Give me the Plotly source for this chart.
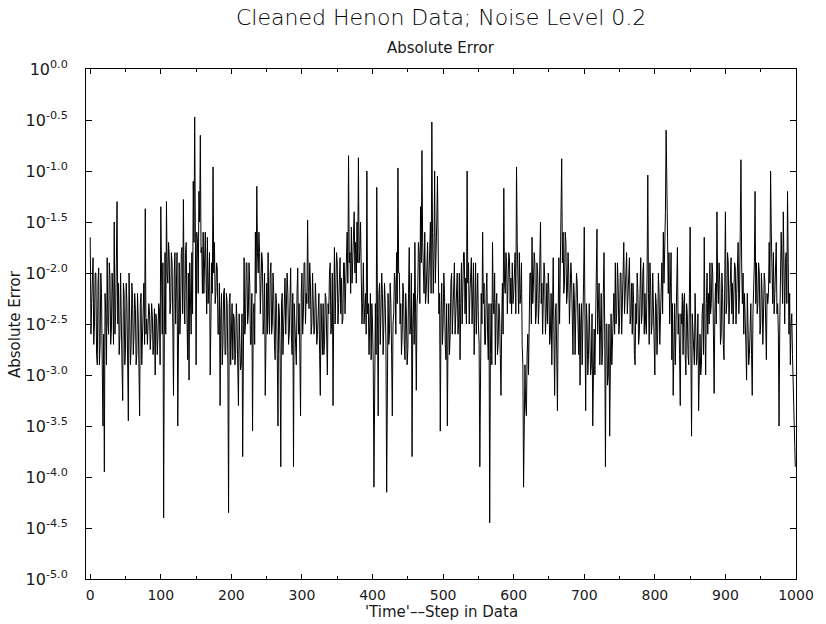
import plotly.graph_objects as go

# log10(absolute error) at even steps 0, 2, ..., 998
log_err_even = [
    -1.65, -2.3, -1.85, -2.5, -2.0, -2.9, -1.95, -2.7, -2.2, -3.5,
    -3.95, -2.4, -1.85, -2.6, -2.05, -2.55, -2.2, -1.5, -2.4, -1.3,
    -2.1, -2.6, -2.3, -3.25, -2.2, -2.75, -2.3, -3.45, -2.4, -2.7,
    -2.25, -2.6, -2.35, -2.8, -2.45, -3.4, -2.2, -2.6, -2.1, -1.37,
    -2.45, -2.55, -2.38, -2.6, -2.42, -2.7, -3.0, -2.45, -2.6, -2.35,
    -1.35, -2.6, -4.4, -1.8, -1.3, -2.1, -1.85, -2.3, -1.9, -3.2,
    -1.8, -2.2, -3.5, -1.9, -2.4, -1.75, -1.28, -2.5, -1.7, -2.85,
    -3.05, -2.3, -1.8, -1.1, -0.47, -2.9, -1.7, -1.2, -0.65, -1.75,
    -1.6, -1.85, -2.0, -1.65, -2.1, -3.0, -1.9, -0.96, -1.7, -2.2,
    -1.95, -2.6, -3.3, -2.2, -2.7, -2.15, -2.8, -2.3, -4.35, -2.2,
    -2.6, -2.85, -2.45, -2.8, -2.5, -3.3, -2.6, -2.9, -3.8, -1.85,
    -2.5, -1.9, -2.4, -2.1, -2.7, -3.55, -2.3, -1.6, -1.15, -2.0,
    -1.8, -2.2, -1.9, -2.45, -3.2, -2.1, -1.8, -2.6, -1.9, -2.5,
    -2.2, -2.85, -2.3, -3.5, -2.4, -3.9, -2.2, -2.5, -2.05, -2.4,
    -2.2, -2.6, -1.95, -2.8, -3.9, -2.5, -2.9, -1.95, -2.3, -3.4,
    -2.0, -2.4, -1.9, -2.2, -1.48, -2.35, -2.1, -2.5, -2.2, -2.55,
    -2.3, -2.6, -2.2, -3.2, -2.5, -2.3, -2.7, -2.25, -3.0, -2.4,
    -1.9, -2.5, -3.3, -1.75, -2.2, -1.9, -2.3, -1.85, -2.05, -2.45,
    -1.9, -2.1, -1.6, -0.85, -1.8, -1.55, -1.9, -1.4, -1.7, -1.5,
    -0.87, -1.8, -2.1, -2.3, -2.5, -2.2, -1.0, -2.3, -2.6, -2.85,
    -2.5, -4.1, -2.3, -1.16, -3.4, -2.1, -2.4, -2.2, -2.5, -2.3,
    -4.15, -2.2, -2.6, -2.3, -3.4, -2.4, -2.1, -1.8, -0.97, -2.0,
    -2.3, -2.6, -2.2, -2.85, -2.4, -2.75, -1.75, -2.5, -3.8, -2.2,
    -1.7, -3.15, -2.2, -1.8, -1.35, -0.8, -2.0, -1.6, -2.2, -1.7,
    -2.1, -1.5, -0.52, -2.2, -1.0, -1.9, -1.05, -2.4, -3.55, -2.1,
    -2.5, -2.2, -2.85, -3.5, -2.3, -2.6, -2.0, -2.4, -1.9, -2.3,
    -2.0, -2.5, -2.85, -1.9, -2.1, -1.8, -2.05, -1.0, -1.9, -2.2,
    -1.85, -2.3, -2.8, -1.9, -2.2, -2.5, -3.9, -2.2, -1.6, -2.1,
    -2.7, -2.0, -2.85, -4.45, -2.3, -1.7, -2.4, -2.9, -2.2, -2.7,
    -2.4, -3.2, -2.1, -1.17, -2.2, -1.9, -2.1, -1.85, -2.05, -1.9,
    -2.2, -1.8, -0.96, -2.0, -1.8, -2.2, -2.7, -4.1, -2.9, -3.4,
    -2.6, -2.35, -2.0, -1.65, -2.1, -1.9, -2.4, -2.0, -2.3, -1.5,
    -2.1, -2.3, -2.05, -2.4, -2.5, -2.2, -2.6, -2.9, -1.85, -3.2,
    -2.3, -3.35, -1.85, -2.1, -0.88, -1.6, -2.1, -1.7, -2.2, -2.0,
    -2.3, -2.05, -2.8, -2.25, -2.5, -2.1, -2.8, -3.1, -2.3, -2.6,
    -1.55, -3.35, -2.5, -2.8, -2.6, -2.9, -3.5, -2.55, -2.3, -1.57,
    -2.4, -2.9, -2.2, -2.75, -1.8, -3.9, -2.5, -3.0, -3.6, -2.4,
    -2.7, -2.2, -1.9, -2.4, -2.1, -2.5, -2.0, -2.3, -1.7, -2.1,
    -1.8, -2.2, -1.85, -2.4, -2.6, -2.3, -2.9, -2.5, -2.2, -2.6,
    -1.85, -2.4, -1.9, -2.2, -2.6, -1.04, -2.7, -2.1, -2.5, -2.3,
    -3.0, -2.3, -2.6, -2.2, -2.5, -1.9, -1.6, -1.75, -0.6, -1.65,
    -1.8, -2.1, -2.85, -3.2, -2.3, -2.6, -1.75, -2.4, -3.3, -2.5,
    -2.8, -2.2, -3.0, -2.4, -2.9, -1.55, -3.6, -2.6, -2.9, -2.5,
    -2.8, -3.35, -2.6, -2.9, -2.3, -1.65, -3.0, -2.0, -2.2, -1.9,
    -2.3, -2.0, -3.18, -2.1, -1.4, -2.3, -2.1, -2.6, -2.2, -2.85,
    -1.4, -2.3, -1.9, -2.2, -1.85, -2.1, -2.3, -1.95, -2.2, -1.7,
    -2.2, -0.89, -2.3, -2.6, -2.4, -3.05, -2.5, -2.8, -2.3, -3.2,
    -2.2, -1.2, -1.9, -2.3, -2.0, -2.5, -2.2, -2.4, -2.1, -2.85,
    -2.3, -1.7, -1.0, -1.9, -1.8, -2.2, -1.7, -2.3, -3.5, -2.0,
    -1.9, -1.4, -2.5, -1.8, -1.2, -2.6, -2.9, -2.4, -3.1, -3.6,
]

# log10(absolute error) at odd steps 1, 3, ..., 999
log_err_odd = [
    -2.6, -1.9, -2.7, -2.0, -2.8, -2.1, -2.9, -2.0, -2.9, -2.6,
    -2.2, -2.9, -2.5, -1.9, -2.7, -2.0, -2.7, -2.6, -1.9, -2.5,
    -2.8, -2.0, -2.9, -2.1, -2.9, -2.1, -2.8, -2.0, -2.9, -2.1,
    -2.8, -2.2, -2.9, -2.2, -2.9, -2.3, -2.9, -2.2, -2.7, -2.6,
    -2.7, -2.3, -2.75, -2.3, -2.8, -2.35, -2.4, -2.8, -2.3, -2.9,
    -2.4, -1.9, -2.6, -2.6, -2.0, -1.7, -2.4, -1.8, -2.5, -2.0,
    -2.5, -1.8, -2.3, -2.6, -1.8, -2.4, -2.2, -1.8, -2.4, -2.0,
    -1.9, -2.6, -2.4, -1.7, -1.8, -1.6, -2.2, -1.5, -1.8, -2.2,
    -2.2, -1.6, -2.4, -2.3, -1.8, -2.1, -2.2, -2.0, -2.3, -1.9,
    -2.6, -2.1, -2.4, -2.9, -2.2, -2.8, -2.2, -2.9, -2.3, -2.9,
    -2.3, -2.4, -2.9, -2.3, -2.9, -2.4, -2.95, -2.4, -2.5, -2.6,
    -1.9, -2.5, -1.9, -2.7, -2.2, -2.4, -2.7, -2.2, -1.8, -1.6,
    -2.4, -1.8, -2.6, -2.0, -2.3, -2.6, -2.4, -2.0, -2.6, -2.0,
    -2.7, -2.2, -2.8, -2.3, -2.8, -2.3, -2.8, -2.1, -2.6, -2.0,
    -2.7, -2.1, -2.6, -2.2, -2.3, -2.9, -2.2, -2.6, -2.8, -2.2,
    -2.6, -1.9, -2.5, -2.3, -2.2, -1.9, -2.6, -2.0, -2.6, -2.1,
    -2.7, -2.2, -2.8, -2.3, -2.8, -2.8, -2.2, -2.8, -2.3, -2.0,
    -2.6, -2.0, -2.4, -2.5, -1.8, -2.5, -1.9, -2.4, -2.5, -1.9,
    -2.4, -1.7, -2.1, -1.9, -2.2, -2.1, -1.6, -2.0, -2.1, -1.9,
    -1.9, -1.5, -2.5, -1.9, -2.2, -2.6, -2.4, -2.8, -2.2, -2.3,
    -2.9, -2.5, -2.8, -2.4, -2.2, -2.7, -2.0, -2.8, -2.1, -2.7,
    -2.6, -2.7, -2.1, -2.8, -2.5, -2.0, -2.6, -2.3, -2.0, -2.5,
    -2.8, -2.1, -2.7, -2.2, -2.9, -2.2, -2.6, -2.0, -2.5, -2.7,
    -2.4, -2.3, -1.7, -2.3, -1.9, -1.7, -2.2, -2.3, -1.8, -2.3,
    -1.7, -2.2, -1.6, -1.8, -2.1, -1.5, -2.0, -2.2, -2.4, -2.7,
    -2.0, -2.7, -2.3, -2.6, -2.8, -2.1, -2.6, -2.0, -2.6, -2.0,
    -2.6, -2.0, -2.3, -2.5, -1.8, -2.4, -2.5, -2.1, -2.5, -1.9,
    -2.5, -1.9, -2.2, -2.6, -2.0, -2.7, -2.6, -2.5, -2.3, -2.7,
    -2.2, -2.6, -2.3, -2.8, -2.9, -2.3, -2.0, -2.3, -2.8, -2.3,
    -2.8, -2.5, -2.6, -2.1, -1.8, -2.4, -1.8, -2.3, -2.4, -2.3,
    -1.9, -2.4, -1.7, -2.4, -2.3, -1.9, -2.9, -3.0, -3.3, -2.8,
    -3.0, -2.0, -2.5, -2.3, -1.8, -2.5, -1.9, -2.5, -1.9, -2.3,
    -2.6, -1.9, -2.6, -2.1, -2.0, -2.7, -2.2, -2.3, -2.6, -2.4,
    -2.8, -2.4, -2.5, -1.7, -1.9, -2.2, -1.6, -2.3, -1.8, -2.5,
    -1.9, -2.5, -2.1, -2.8, -2.0, -2.6, -2.3, -2.5, -2.9, -2.1,
    -2.6, -2.3, -3.0, -2.3, -3.0, -2.4, -2.7, -3.0, -2.1, -2.6,
    -2.1, -2.5, -2.9, -2.2, -2.6, -2.5, -3.1, -2.5, -2.9, -2.9,
    -2.3, -2.6, -2.5, -1.9, -2.6, -2.0, -2.6, -2.0, -2.4, -1.9,
    -2.4, -1.9, -2.5, -2.1, -2.1, -2.8, -2.3, -2.0, -2.7, -2.2,
    -2.5, -2.0, -2.6, -2.5, -2.0, -2.2, -1.9, -2.6, -2.0, -2.7,
    -2.2, -2.8, -2.0, -2.7, -2.1, -2.4, -2.1, -1.4, -1.5, -2.2,
    -2.5, -1.8, -2.3, -2.6, -2.9, -2.0, -2.6, -2.8, -2.4, -2.2,
    -2.3, -2.8, -2.3, -2.8, -2.2, -2.7, -2.4, -2.9, -2.2, -2.9,
    -2.4, -2.7, -3.0, -2.4, -2.8, -2.5, -2.3, -2.6, -2.5, -2.4,
    -1.9, -2.6, -2.4, -2.5, -2.1, -1.9, -2.7, -2.0, -2.7, -2.1,
    -2.4, -1.8, -2.5, -1.9, -2.4, -2.5, -1.9, -2.5, -2.0, -2.4,
    -1.6, -1.9, -2.0, -2.2, -2.7, -2.2, -2.9, -2.3, -2.8, -2.4,
    -1.9, -2.3, -2.4, -1.9, -2.6, -2.0, -2.7, -2.0, -2.6, -2.2,
    -2.2, -2.1, -1.6, -2.3, -2.4, -1.8, -2.4, -2.6, -2.5, -1.6,
    -2.3, -2.0, -1.9, -2.3, -1.9, -2.2, -2.5, -2.8, -3.4, -3.9,
]

step, abs_err = [], []
for i, (ve, vo) in enumerate(zip(log_err_even, log_err_odd)):
    step += [2 * i, 2 * i + 1]
    abs_err += [10 ** ve, 10 ** vo]

y_exps = [0.0, -0.5, -1.0, -1.5, -2.0, -2.5, -3.0, -3.5, -4.0, -4.5, -5.0]
y_tickvals = [10 ** e for e in y_exps]
y_ticktext = ["10<sup>%.1f</sup>" % e for e in y_exps]
x_ticks = [0, 100, 200, 300, 400, 500, 600, 700, 800, 900, 1000]

FONT = "DejaVu Sans"
INK = "#1a1a1a"

L, R, T, B = 86, 30, 69, 45
W, H = 826, 624
ph = H - T - B
pw = W - L - R

fig = go.Figure()
fig.add_trace(go.Scatter(x=step, y=abs_err, mode="lines",
                         line=dict(color="black", width=1), showlegend=False))

fig.update_layout(
    width=W, height=H,
    margin=dict(l=L, r=R, t=T, b=B),
    paper_bgcolor="white", plot_bgcolor="white",
    font=dict(family=FONT, color=INK, size=13),
    xaxis=dict(range=[-6, 1000], tickvals=x_ticks, ticks="inside", ticklen=5,
               tickcolor="black", showline=True, linecolor="black", linewidth=1,
               mirror="ticks", showgrid=False, zeroline=False,
               minor=dict(ticks="inside", ticklen=3, dtick=50, tickcolor="black"),
               tickfont=dict(size=14, color=INK), ticklabelstandoff=3),
    yaxis=dict(type="log", range=[-5, 0], tickvals=y_tickvals, ticktext=y_ticktext,
               ticks="inside", ticklen=6, tickcolor="black", showline=True,
               linecolor="black", linewidth=1, mirror="ticks", showgrid=False,
               zeroline=False, tickfont=dict(size=16, color=INK),
               ticklabelstandoff=14),
    annotations=[
        dict(text="Cleaned Henon Data; Noise Level 0.2", x=0.5,
             y=1 + (T - 18) / ph, xref="paper", yref="paper", yanchor="middle",
             showarrow=False, font=dict(size=22, color="black", weight=300)),
        dict(text="Absolute Error", x=0.5, y=1 + (T - 48) / ph, xref="paper",
             yref="paper", yanchor="middle", showarrow=False,
             font=dict(size=15, color=INK)),
        dict(text="'Time'\u2013\u2013Step in Data", x=0.5, y=-(612 - (H - B)) / ph,
             xref="paper", yref="paper", yanchor="middle", showarrow=False,
             font=dict(size=15, color=INK)),
        dict(text="Absolute Error", x=-(L - 15) / pw, y=0.5, xref="paper",
             yref="paper", xanchor="center", showarrow=False, textangle=-90,
             font=dict(size=15, color=INK)),
    ],
)

fig.write_html("out.html")
